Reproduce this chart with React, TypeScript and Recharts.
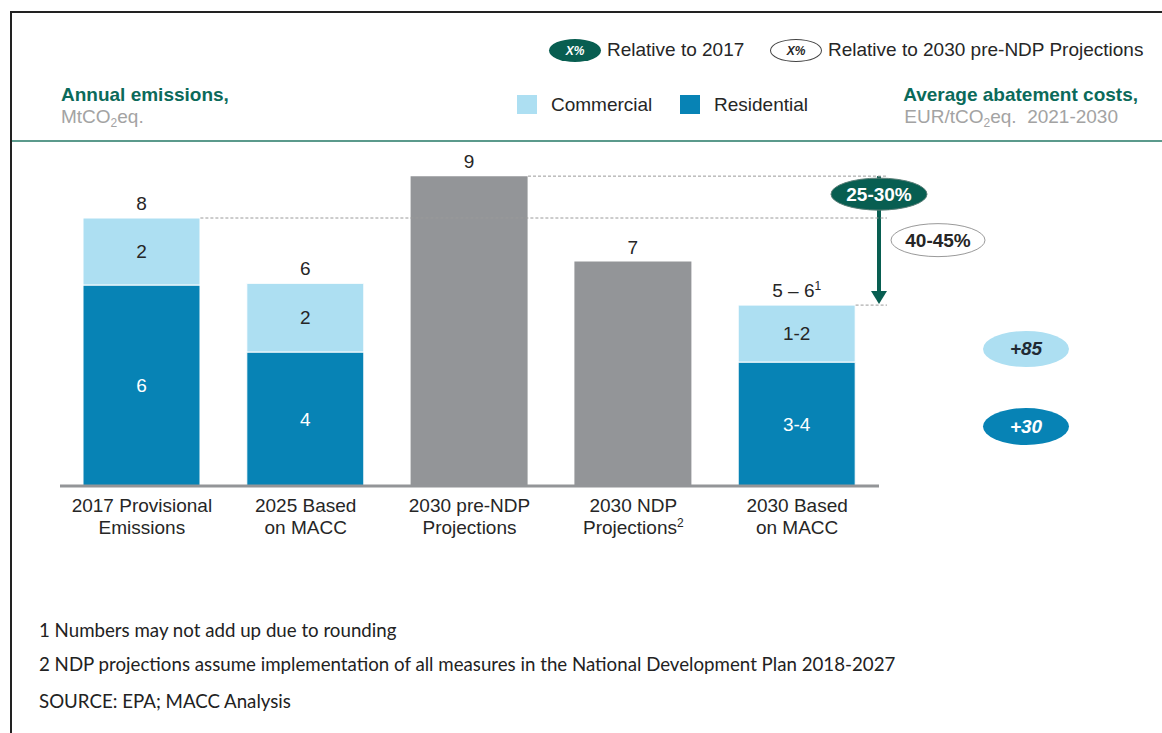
import React from "react";
import {
  Bar,
  BarChart,
  LabelList,
  ReferenceArea,
  ReferenceLine,
  XAxis,
  YAxis,
} from "recharts";

// categories, split in two lines for the axis
const categoryLines = [
  ["2017 Provisional", "Emissions"],
  ["2025 Based", "on MACC"],
  ["2030 pre-NDP", "Projections"],
  ["2030 NDP", "Projections"],
  ["2030 Based", "on MACC"],
];
const categorySup = ["", "", "", "2", ""];

// MtCO2eq
const residential = [6.0, 4.0, null, null, 3.7];
const commercial = [2.0, 2.05, null, null, 1.7];
const projections = [null, null, 9.25, 6.7, null];

const totalLabels = ["8", "6", "9", "7", "5 – 6"];
const totalSup = ["", "", "", "", "1"];
const residentialLabels = ["6", "4", "", "", "3-4"];
const commercialLabels = ["2", "2", "", "", "1-2"];

const reductionVs2017 = "25-30%";
const reductionVsPreNdp = "40-45%";
const abatementCommercial = "+85";
const abatementResidential = "+30";

const footnotes = [
  "1 Numbers may not add up due to rounding",
  "2 NDP projections assume implementation of all measures in the National Development Plan 2018-2027",
  "SOURCE: EPA; MACC Analysis",
];

const COMMERCIAL = "#addff2";
const RESIDENTIAL = "#0783b5";
const GREY = "#939598";
const GREEN = "#085e51";
const TITLE = "#0b6a5a";
const TEXT = "#262626";
const FONT = "'Liberation Sans', Arial, sans-serif";

const BAR_SIZE = 117;

const data = categoryLines.map((lines, i) => ({
  name: lines.join(" "),
  residential: residential[i],
  commercial: commercial[i],
  projection: projections[i],
  total:
    projections[i] != null
      ? projections[i]
      : (residential[i] ?? 0) + (commercial[i] ?? 0),
  totalLabel: totalLabels[i],
  resLabel: residentialLabels[i],
  comLabel: commercialLabels[i],
}));

function CategoryTick(props: any) {
  const { x, y, index } = props;
  const lines = categoryLines[index] ?? ["", ""];
  return (
    <text
      x={x}
      y={y}
      textAnchor="middle"
      fontFamily={FONT}
      fontSize={19}
      fill={TEXT}
    >
      <tspan x={x} dy={18}>
        {lines[0]}
      </tspan>
      <tspan x={x} dy={22}>
        {lines[1]}
      </tspan>
      {categorySup[index] ? (
        <tspan fontSize={12} dy={-7}>
          {categorySup[index]}
        </tspan>
      ) : null}
    </text>
  );
}

function TotalLabel(props: any) {
  const { x, y, width, value } = props;
  if (!value) return null;
  const i = totalLabels.indexOf(value);
  return (
    <text
      x={x + width / 2}
      y={y - 8}
      textAnchor="middle"
      fontFamily={FONT}
      fontSize={19}
      fill={TEXT}
    >
      {value}
      {totalSup[i] ? (
        <tspan fontSize={12} dy={-7}>
          {totalSup[i]}
        </tspan>
      ) : null}
    </text>
  );
}

function dashedFrom(barIndex: number) {
  return (props: any) => {
    const { x1, x2, y1 } = props;
    const band = (x2 - x1) / categoryLines.length;
    const start = x1 + band * (barIndex + 0.5) + BAR_SIZE / 2;
    return (
      <line
        x1={start}
        x2={x2 + 8}
        y1={y1}
        y2={y1}
        stroke="#9a9a9a"
        strokeWidth={1}
        strokeDasharray="3 2"
      />
    );
  };
}

function ReductionArrow(props: any) {
  const { x, y, width, height } = props;
  const cx = x + width;
  const bottom = y + height;
  return (
    <g fontFamily={FONT} fontWeight="bold" fontSize={19}>
      <line x1={cx} x2={cx} y1={y} y2={bottom - 12} stroke={GREEN} strokeWidth={4} />
      <polygon
        points={`${cx - 8},${bottom - 14} ${cx + 8},${bottom - 14} ${cx},${bottom - 1}`}
        fill={GREEN}
      />
      <ellipse cx={cx} cy={y + 18} rx={48} ry={16} fill={GREEN} stroke="#5b7f78" strokeWidth={1} />
      <text x={cx} y={y + 25} textAnchor="middle" fill="#fff">
        {reductionVs2017}
      </text>
      <ellipse cx={cx + 59} cy={y + 64} rx={47} ry={16.5} fill="#fff" stroke="#9a9a9a" strokeWidth={1} />
      <text x={cx + 59} y={y + 71} textAnchor="middle" fill={TEXT}>
        {reductionVsPreNdp}
      </text>
    </g>
  );
}

const abs = (s: React.CSSProperties): React.CSSProperties => ({
  position: "absolute",
  whiteSpace: "pre",
  lineHeight: "20px",
  ...s,
});

function Badge({
  left,
  top,
  w,
  h,
  fill,
  border,
  color,
  text,
  size,
}: {
  left: number;
  top: number;
  w: number;
  h: number;
  fill: string;
  border?: string;
  color: string;
  text: string;
  size: number;
}) {
  return (
    <div
      style={{
        position: "absolute",
        left,
        top,
        width: w,
        height: h,
        boxSizing: "border-box",
        borderRadius: "50%",
        background: fill,
        border: border ? `1px solid ${border}` : "none",
        color,
        fontFamily: FONT,
        fontWeight: "bold",
        fontStyle: "italic",
        fontSize: size,
        display: "flex",
        alignItems: "center",
        justifyContent: "center",
      }}
    >
      {text}
    </div>
  );
}

export default function App() {
  return (
    <div
      style={{
        position: "absolute",
        left: 0,
        top: 0,
        width: 1162,
        height: 733,
        background: "#fff",
        overflow: "hidden",
        fontFamily: FONT,
      }}
    >
      {/* frame */}
      <div
        style={{
          position: "absolute",
          left: 10,
          top: 11,
          width: 1200,
          height: 800,
          borderLeft: "2px solid #222",
          borderTop: "2px solid #222",
        }}
      />
      <div
        style={{
          position: "absolute",
          left: 12,
          top: 140,
          width: 1160,
          height: 2,
          background: "#5b9a8c",
        }}
      />

      {/* top legend */}
      <Badge left={549} top={39} w={52} h={23} fill={GREEN} color="#fff" text="X%" size={12} />
      <div style={abs({ left: 607, top: 40, fontSize: 19, color: TEXT })}>Relative to 2017</div>
      <Badge left={770} top={39} w={52} h={23} fill="#fff" border="#444" color={TEXT} text="X%" size={12} />
      <div style={abs({ left: 828, top: 40, fontSize: 19, color: TEXT })}>
        Relative to 2030 pre-NDP Projections
      </div>

      {/* titles */}
      <div style={abs({ left: 61, top: 85, fontSize: 19, fontWeight: "bold", color: TITLE })}>
        Annual emissions,
      </div>
      <div style={abs({ left: 61, top: 107, fontSize: 19, color: "#a3a3a3" })}>
        MtCO<sub style={{ fontSize: 12, verticalAlign: "-4px" }}>2</sub>eq.
      </div>
      <div style={abs({ right: 24, top: 85, fontSize: 19, fontWeight: "bold", color: TITLE })}>
        Average abatement costs,
      </div>
      <div style={abs({ right: 44, top: 107, fontSize: 19, color: "#a3a3a3" })}>
        EUR/tCO<sub style={{ fontSize: 12, verticalAlign: "-4px" }}>2</sub>eq.  2021-2030
      </div>

      {/* series legend */}
      <div style={{ position: "absolute", left: 517, top: 95, width: 20, height: 19, background: COMMERCIAL }} />
      <div style={abs({ left: 551, top: 95, fontSize: 19, color: TEXT })}>Commercial</div>
      <div style={{ position: "absolute", left: 680, top: 95, width: 20, height: 19, background: RESIDENTIAL }} />
      <div style={abs({ left: 714, top: 95, fontSize: 19, color: TEXT })}>Residential</div>

      {/* abatement costs */}
      <Badge left={983} top={331} w={86} h={36} fill={COMMERCIAL} color="#1f2a33" text={abatementCommercial} size={19} />
      <Badge left={983} top={408} w={86} h={37} fill={RESIDENTIAL} color="#fff" text={abatementResidential} size={19} />

      <div style={{ position: "absolute", left: 0, top: 0 }}>
        <BarChart
          width={1162}
          height={733}
          data={data}
          margin={{ top: 151, right: 283, bottom: 187, left: 60 }}
          barSize={BAR_SIZE}
        >
          <YAxis hide domain={[0, 10]} />
          <XAxis
            dataKey="name"
            height={60}
            tickLine={false}
            axisLine={{ stroke: GREY, strokeWidth: 3 }}
            tick={<CategoryTick />}
            interval={0}
          />
          <ReferenceLine y={data[2].total} ifOverflow="visible" shape={dashedFrom(2)} />
          <ReferenceLine y={data[0].total} ifOverflow="visible" shape={dashedFrom(0)} />
          <ReferenceLine y={data[4].total} ifOverflow="visible" shape={dashedFrom(4)} />
          <ReferenceArea
            y1={data[4].total}
            y2={data[2].total}
            ifOverflow="visible"
            shape={<ReductionArrow />}
          />
          <Bar dataKey="residential" stackId="a" fill={RESIDENTIAL} stroke="#fff" strokeWidth={1} isAnimationActive={false}>
            <LabelList dataKey="resLabel" position="center" fill="#fff" fontSize={19} fontFamily={FONT} />
          </Bar>
          <Bar dataKey="commercial" stackId="a" fill={COMMERCIAL} stroke="#fff" strokeWidth={1} isAnimationActive={false}>
            <LabelList dataKey="comLabel" position="center" fill={TEXT} fontSize={19} fontFamily={FONT} />
            <LabelList dataKey="totalLabel" content={<TotalLabel />} />
          </Bar>
          <Bar dataKey="projection" stackId="a" fill={GREY} isAnimationActive={false}>
            <LabelList dataKey="totalLabel" content={<TotalLabel />} />
          </Bar>
        </BarChart>
      </div>

      {/* footnotes */}
      {footnotes.map((f, i) => (
        <div
          key={i}
          style={abs({
            left: 39,
            top: [620, 654, 691][i],
            fontSize: 18.7,
            color: "#222",
            fontFamily: "Lato, 'Noto Sans', sans-serif",
          })}
        >
          {f}
        </div>
      ))}
    </div>
  );
}
